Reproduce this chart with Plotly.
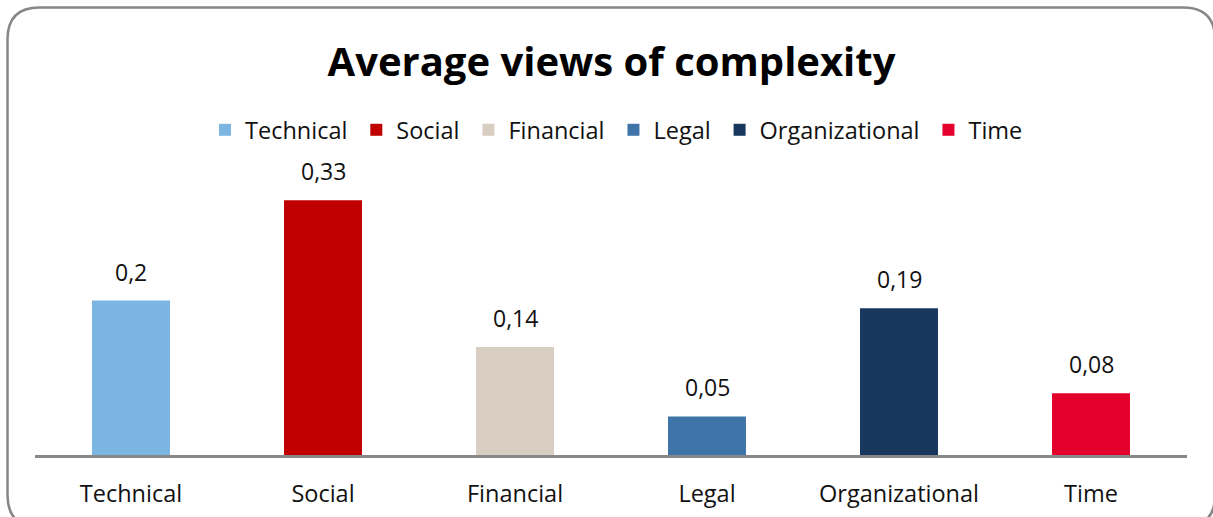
import plotly.graph_objects as go

categories = ["Technical", "Social", "Financial", "Legal", "Organizational", "Time"]
values = [0.20, 0.33, 0.14, 0.05, 0.19, 0.08]
labels = ["0,2", "0,33", "0,14", "0,05", "0,19", "0,08"]
colors = ["#7AB6E1", "#C00000", "#D7CDC0", "#3F74A9", "#17375E", "#E3002B"]

W, H = 1213, 517
L, R, T, B = 35, 26, 177, 62
plot_w = W - L - R
plot_h = H - T - B
bottom_px = H - B

def px(x):
    return (x - L) / plot_w

def py(y):
    return (bottom_px - y) / plot_h

FONT = "Open Sans"

fig = go.Figure()
for i, (c, v, col) in enumerate(zip(categories, values, colors)):
    legend_name = c + ("\u2009" if i < len(categories) - 1 else "")
    fig.add_trace(go.Bar(x=[c], y=[v], name=legend_name,
                         marker=dict(color=col, line=dict(width=0)),
                         width=0.406, hovertemplate=c + ": %{y}<extra></extra>"))

for c, v, t in zip(categories, values, labels):
    fig.add_annotation(x=c, y=v, text=t, showarrow=False, yanchor="bottom", yshift=11,
                       font=dict(family=FONT, size=23, color="#111"))

# rounded border
x0, y0, x1, y1, r = 7.5, 7.5, 1215, 527, 32
path = (f"M {px(x0 + r)},{py(y0)} L {px(x1 - r)},{py(y0)} Q {px(x1)},{py(y0)} {px(x1)},{py(y0 + r)} "
        f"L {px(x1)},{py(y1 - r)} Q {px(x1)},{py(y1)} {px(x1 - r)},{py(y1)} "
        f"L {px(x0 + r)},{py(y1)} Q {px(x0)},{py(y1)} {px(x0)},{py(y1 - r)} "
        f"L {px(x0)},{py(y0 + r)} Q {px(x0)},{py(y0)} {px(x0 + r)},{py(y0)} Z")
fig.add_shape(type="path", xref="paper", yref="paper", path=path,
              line=dict(color="#878787", width=2.5), layer="below")

fig.update_layout(
    width=W, height=H,
    margin=dict(l=L, r=R, t=T, b=B, autoexpand=False),
    paper_bgcolor="white", plot_bgcolor="white",
    barmode="overlay",
    title=dict(text="<b>Average views of complexity</b>", x=611.5 / W, xref="container",
               xanchor="center", y=1 - 62 / H, yref="container", yanchor="middle",
               font=dict(family=FONT, size=40, color="#000")),
    legend=dict(orientation="h", x=px(616.5), xanchor="center", y=py(130), yanchor="middle",
                font=dict(family=FONT, size=23.5, color="#111"), itemwidth=30,
                traceorder="normal", bgcolor="rgba(0,0,0,0)"),
    xaxis=dict(showline=True, linecolor="#888888", linewidth=3, ticks="",
               tickfont=dict(family=FONT, size=23.5, color="#111"), ticklabelstandoff=16,
               showgrid=False, automargin=False),
    yaxis=dict(range=[0, 0.36], visible=False, showgrid=False, zeroline=False),
    showlegend=True,
)

fig.write_html("out.html", config={"displayModeBar": False},
               post_script="document.body.style.margin='0';document.body.style.overflow='hidden';")
